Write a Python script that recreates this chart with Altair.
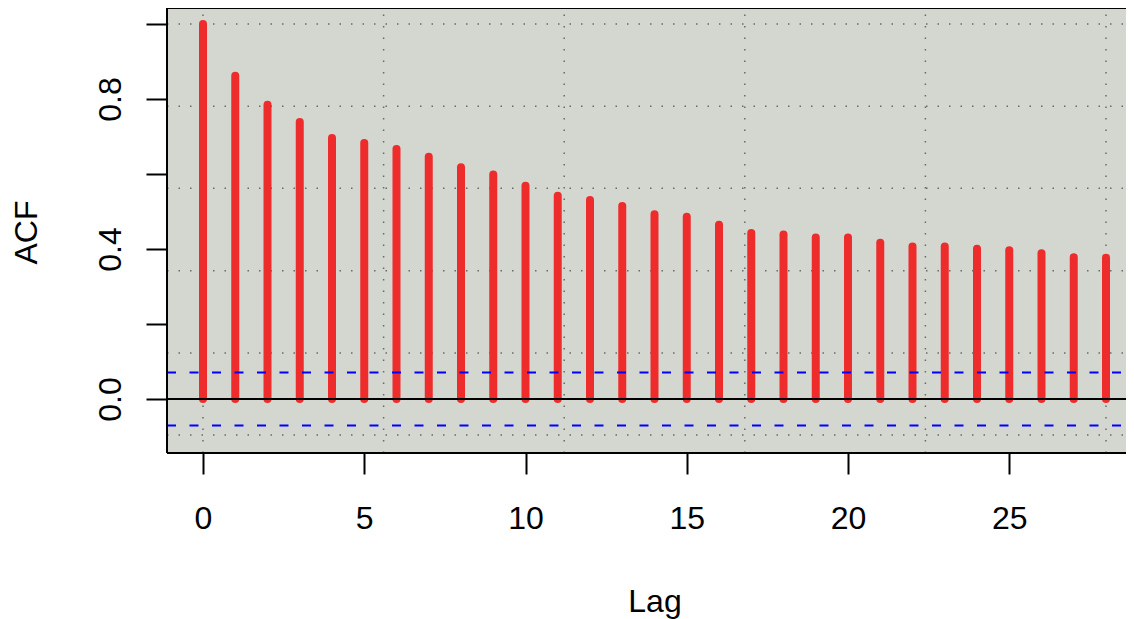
import altair as alt
import pandas as pd

lags = list(range(29))
acf_vals = [1.000, 0.862, 0.785, 0.739, 0.696, 0.683, 0.667, 0.646, 0.618, 0.599,
            0.569, 0.542, 0.531, 0.515, 0.493, 0.486, 0.465, 0.443, 0.439, 0.431,
            0.431, 0.417, 0.407, 0.407, 0.401, 0.397, 0.389, 0.378, 0.377]
ci_vals = [0.0705, -0.0705]
grid_x = [0, 5.6, 11.2, 16.8, 22.4, 28]
grid_y = [-0.096, 0.123, 0.342, 0.562, 0.781, 1.0]
x_ticks = [0, 5, 10, 15, 20, 25]
y_ticks = [0, 0.2, 0.4, 0.6, 0.8, 1.0]

W, H = 959, 445
FONT = "Liberation Sans"

xs = alt.Scale(domain=[-1.1163, 28.62], nice=False, zero=False)
ys = alt.Scale(domain=[-0.144, 1.04267], nice=False, zero=False)

acf_df = pd.DataFrame({"lag": lags, "acf": acf_vals})
ci_df = pd.DataFrame({"ci": ci_vals})
gx_df = pd.DataFrame({"gx": grid_x})
gy_df = pd.DataFrame({"gy": grid_y})

x_axis = alt.Axis(values=x_ticks, title="Lag", grid=False, domain=False,
                  tickSize=21, tickWidth=2, tickColor="black",
                  labelFont=FONT, labelFontSize=32, labelColor="black",
                  labelBaseline="alphabetic", labelPadding=54, labelAlign="center",
                  labelFlush=False, labelOverlap=False,
                  titleFont=FONT, titleFontSize=32, titleFontWeight="normal",
                  titleColor="black", titleBaseline="alphabetic",
                  titleX=487.5, titleY=158, titleAlign="center")
y_axis = alt.Axis(values=y_ticks, title="ACF", grid=False, domain=False,
                  tickSize=21, tickWidth=2, tickColor="black",
                  labelFont=FONT, labelFontSize=32, labelColor="black",
                  labelAngle=270, labelAlign="center", labelBaseline="alphabetic",
                  labelPadding=26, labelFlush=False, labelOverlap=False,
                  labelExpr="round(datum.value*10) % 4 == 0 ? format(datum.value, '.1f') : ''",
                  titleFont=FONT, titleFontSize=32, titleFontWeight="normal",
                  titleColor="black", titleBaseline="alphabetic", titleAngle=270,
                  titleX=-131, titleY=224, titleAlign="center")

grid_v = alt.Chart(gx_df).mark_rule(color="#6a6a6a", strokeWidth=1.5,
                                    strokeDash=[1.5, 10]).encode(
    x=alt.X("gx:Q", scale=xs), y=alt.value(H), y2=alt.value(0))
grid_h = alt.Chart(gy_df).mark_rule(color="#6a6a6a", strokeWidth=1.5,
                                    strokeDash=[1.5, 10]).encode(
    y=alt.Y("gy:Q", scale=ys), x=alt.value(0), x2=alt.value(W))

bars = alt.Chart(acf_df).mark_rule(color="#EE2C2C", strokeWidth=8,
                                   strokeCap="round").encode(
    x=alt.X("lag:Q", scale=xs, axis=x_axis),
    y=alt.Y("acf:Q", scale=ys, axis=y_axis),
    y2=alt.datum(0))

zero = alt.Chart(ci_df.head(1)).mark_rule(color="black", strokeWidth=2).encode(
    y=alt.YDatum(0), x=alt.value(0), x2=alt.value(W))

ci = alt.Chart(ci_df).mark_rule(color="#0000FF", strokeWidth=2,
                                strokeDash=[9, 13.5]).encode(
    y=alt.Y("ci:Q", scale=ys), x=alt.value(0), x2=alt.value(W))

border_left = alt.Chart(ci_df.head(1)).mark_rule(color="black", strokeWidth=2).encode(
    x=alt.value(0), y=alt.value(0), y2=alt.value(H))
border_top = alt.Chart(ci_df.head(1)).mark_rule(color="black", strokeWidth=2).encode(
    y=alt.value(0), x=alt.value(0), x2=alt.value(W))
border_bottom = alt.Chart(ci_df.head(1)).mark_rule(color="black", strokeWidth=2).encode(
    y=alt.value(H), x=alt.value(0), x2=alt.value(W))

chart = alt.layer(grid_v, grid_h, bars, zero, ci, border_left, border_top,
                  border_bottom).properties(
    width=W, height=H,
    autosize=alt.AutoSizeParams(type="none"),
    padding={"left": 159, "top": 0, "right": 0, "bottom": 166},
    background="white",
).configure_view(fill="#D4D6D0", strokeOpacity=0)

chart.save("out.html", embed_options={"renderer": "svg", "actions": False})
